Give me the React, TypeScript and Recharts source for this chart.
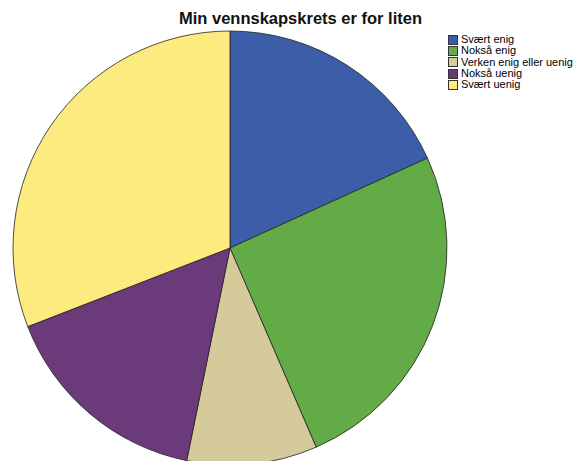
import { PieChart, Pie, Cell, Legend } from 'recharts';

const categories = ['Svært enig', 'Nokså enig', 'Verken enig eller uenig', 'Nokså uenig', 'Svært uenig'];
const shares = [18.2, 25.3, 9.7, 15.9, 30.9];
const colors = ['#3c5ea8', '#62ab47', '#d4ca9a', '#6b3a7b', '#fceb7e'];

const data = categories.map((name, i) => ({ name, value: shares[i] }));

const font = '"Liberation Sans", Arial, sans-serif';

function LegendBox() {
  return (
    <div style={{ fontFamily: font, fontSize: 11, lineHeight: '11.3px', color: '#000' }}>
      {categories.map((c, i) => (
        <div key={c} style={{ display: 'flex', alignItems: 'center', height: 11.3 }}>
          <span
            style={{
              width: 8,
              height: 8,
              background: colors[i],
              border: '0.7px solid #333',
              marginRight: 3,
              display: 'inline-block',
            }}
          />
          <span>{c}</span>
        </div>
      ))}
    </div>
  );
}

export default function App() {
  return (
    <div style={{ position: 'absolute', left: 0, top: 0, width: 587, height: 461, overflow: 'hidden', background: '#fff' }}>
      <div
        style={{
          position: 'absolute',
          left: 0,
          width: 601,
          top: 9,
          textAlign: 'center',
          fontFamily: font,
          fontWeight: 'bold',
          fontSize: 16.5,
          color: '#111',
        }}
      >
        Min vennskapskrets er for liten
      </div>
      <PieChart
        width={587}
        height={470}
        margin={{ top: 0, right: 0, bottom: 0, left: 0 }}
        style={{ position: 'absolute', left: 0, top: 0 }}
      >
        <Pie
          data={data}
          dataKey="value"
          nameKey="name"
          cx={230}
          cy={248}
          outerRadius={217}
          startAngle={90}
          endAngle={-270}
          stroke="#222"
          strokeWidth={0.8}
          isAnimationActive={false}
        >
          {data.map((d, i) => (
            <Cell key={d.name} fill={colors[i]} />
          ))}
        </Pie>
        <Legend
          content={<LegendBox />}
          wrapperStyle={{ position: 'absolute', left: 448, top: 34, width: 140 }}
        />
      </PieChart>
    </div>
  );
}
